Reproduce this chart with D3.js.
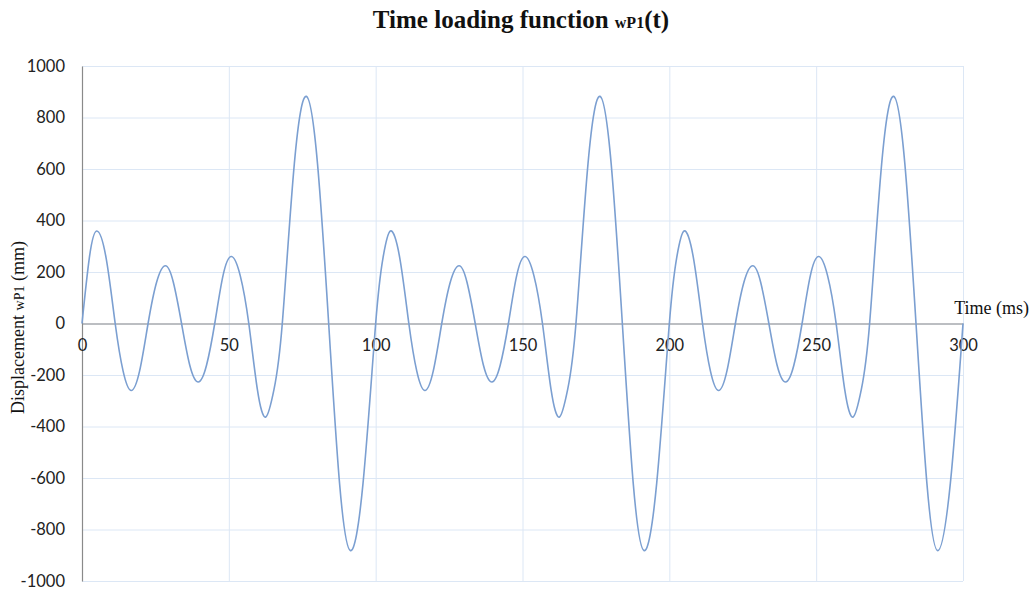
<!DOCTYPE html>
<html>
<head>
<meta charset="utf-8">
<script src="https://cdn.jsdelivr.net/npm/d3@7"></script>
<style>
  html, body { margin: 0; padding: 0; background: #ffffff; }
  svg { display: block; }
</style>
</head>
<body>
<svg id="chart" width="1034" height="592"></svg>
<script>
// ---- data ----
const timeMs = [
  0, 2.5, 5.0, 8.2, 11.3, 14.0, 16.7, 19.6, 22.5, 25.4, 28.4, 31.1, 33.9, 36.7, 39.6, 42.4,
  45.2, 48.0, 50.9, 53.9, 56.8, 59.7, 62.6, 65.4, 68.2, 72.3, 76.4, 80.2, 84.0, 87.7, 91.4, 95.7,
  100, 102.5, 105.0, 108.2, 111.3, 114.0, 116.7, 119.6, 122.5, 125.4, 128.4, 131.1, 133.9, 136.7, 139.6, 142.4,
  145.2, 148.0, 150.9, 153.9, 156.8, 159.7, 162.6, 165.4, 168.2, 172.3, 176.4, 180.2, 184.0, 187.7, 191.4, 195.7,
  200, 202.5, 205.0, 208.2, 211.3, 214.0, 216.7, 219.6, 222.5, 225.4, 228.4, 231.1, 233.9, 236.7, 239.6, 242.4,
  245.2, 248.0, 250.9, 253.9, 256.8, 259.7, 262.6, 265.4, 268.2, 272.3, 276.4, 280.2, 284.0, 287.7, 291.4, 295.7,
  300
];
const displacement = [
  0, 255, 359, 255, 0, -185, -260, -185, 0, 160, 224, 160, 0, -162, -227, -162,
  0, 185, 260, 185, 0, -255, -363, -255, 0, 620, 882, 620, 0, -620, -882, -620,
  0, 255, 359, 255, 0, -185, -260, -185, 0, 160, 224, 160, 0, -162, -227, -162,
  0, 185, 260, 185, 0, -255, -363, -255, 0, 620, 882, 620, 0, -620, -882, -620,
  0, 255, 359, 255, 0, -185, -260, -185, 0, 160, 224, 160, 0, -162, -227, -162,
  0, 185, 260, 185, 0, -255, -363, -255, 0, 620, 882, 620, 0, -620, -882, -620,
  0
];
const xTicks = [0, 50, 100, 150, 200, 250, 300];
const yTicks = [-1000, -800, -600, -400, -200, 0, 200, 400, 600, 800, 1000];
const titleMain = "Time loading function ";
const titleSub = "wP1";
const titleEnd = "(t)";
const xTitle = "Time (ms)";
const yTitleMain = "Displacement ";
const yTitleSub = "wP1";
const yTitleEnd = " (mm)";

// ---- layout ----
const svg = d3.select("#chart");
const margin = { left: 82, right: 963, top: 66, bottom: 581 };
const x = d3.scaleLinear().domain([0, 300]).range([margin.left, margin.right]);
const y = d3.scaleLinear().domain([-1000, 1000]).range([margin.bottom, margin.top]);

const gridColor = "#dce7f5";
const axisColor = "#8a8a8a";
const lineColor = "#7b9fd1";
const serif = "'Liberation Serif', 'DejaVu Serif', serif";
const sans = "Lato, 'Open Sans', 'Liberation Sans', sans-serif";
const fmt = d => String(d); // plain hyphen-minus like the reference

// gridlines
svg.append("g")
  .attr("transform", `translate(${margin.left},0)`)
  .call(d3.axisLeft(y).tickValues(yTicks).tickSize(-(margin.right - margin.left)).tickFormat(""))
  .call(g => g.select(".domain").remove())
  .call(g => g.selectAll("line").attr("stroke", gridColor).attr("stroke-width", 1));

svg.append("g")
  .attr("transform", `translate(0,${margin.bottom})`)
  .call(d3.axisBottom(x).tickValues(xTicks.filter(d => d !== 0)).tickSize(-(margin.bottom - margin.top)).tickFormat(""))
  .call(g => g.select(".domain").remove())
  .call(g => g.selectAll("line").attr("stroke", gridColor).attr("stroke-width", 1));

// left axis
svg.append("g")
  .attr("transform", `translate(${margin.left},0)`)
  .call(d3.axisLeft(y).tickValues(yTicks).tickSize(0).tickPadding(17).tickFormat(fmt))
  .call(g => g.select(".domain").attr("stroke", axisColor).attr("stroke-width", 1.2))
  .call(g => g.selectAll("text")
    .attr("font-family", sans).attr("font-size", 16.5).attr("fill", "#222"));

// zero axis
svg.append("g")
  .attr("transform", `translate(0,${y(0)})`)
  .call(d3.axisBottom(x).tickValues(xTicks).tickSize(0).tickPadding(16).tickFormat(fmt))
  .call(g => g.select(".domain").attr("stroke", axisColor).attr("stroke-width", 1.2))
  .call(g => g.selectAll("text")
    .attr("font-family", sans).attr("font-size", 16.5).attr("fill", "#222"));

// data line
const pts = timeMs.map((t, i) => [t, displacement[i]]);
const line = d3.line()
  .x(d => x(d[0]))
  .y(d => y(d[1]))
  .curve(d3.curveNatural);
svg.append("path")
  .datum(pts)
  .attr("fill", "none")
  .attr("stroke", lineColor)
  .attr("stroke-width", 1.6)
  .attr("d", line);

// title
const title = svg.append("text")
  .attr("x", 521).attr("y", 28)
  .attr("text-anchor", "middle")
  .attr("font-family", serif)
  .attr("font-weight", "bold")
  .attr("font-size", 25)
  .attr("fill", "#111");
title.append("tspan").text(titleMain);
title.append("tspan").attr("font-size", 16).text(titleSub);
title.append("tspan").text(titleEnd);

// x title
svg.append("text")
  .attr("x", 1029).attr("y", 314)
  .attr("text-anchor", "end")
  .attr("font-family", serif)
  .attr("font-size", 18)
  .attr("fill", "#111")
  .text(xTitle);

// y title
const yt = svg.append("text")
  .attr("transform", `translate(24,${y(0) + 4}) rotate(-90)`)
  .attr("text-anchor", "middle")
  .attr("font-family", serif)
  .attr("font-size", 18)
  .attr("fill", "#111");
yt.append("tspan").text(yTitleMain);
yt.append("tspan").attr("font-size", 14).text(yTitleSub);
yt.append("tspan").text(yTitleEnd);
</script>
</body>
</html>
